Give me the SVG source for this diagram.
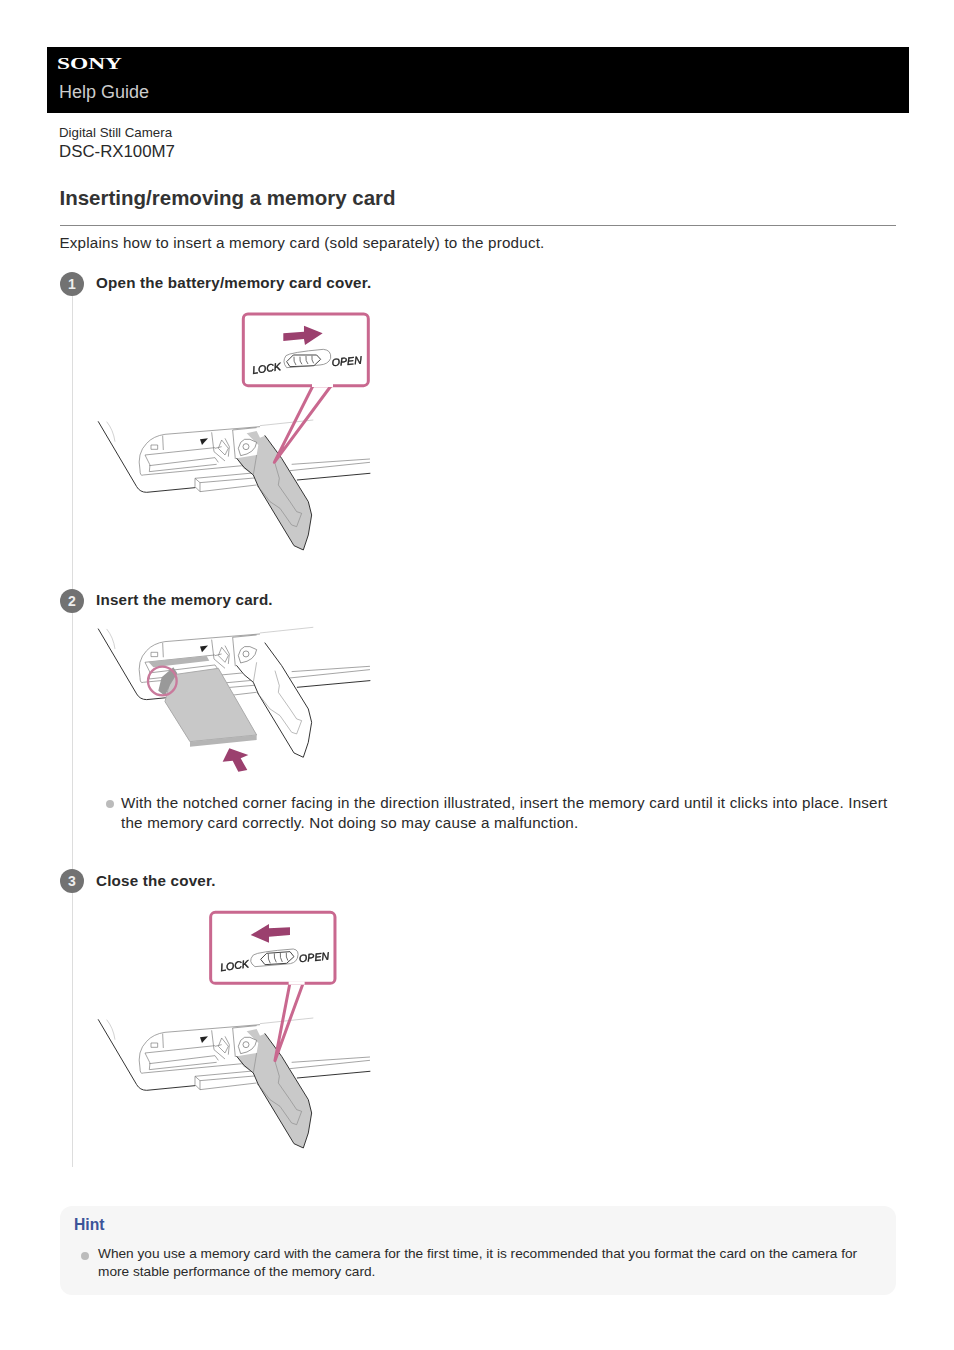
<svg xmlns="http://www.w3.org/2000/svg" width="954" height="1350" viewBox="0 0 954 1350">
<style>
text{font-family:"Liberation Sans",Arial,sans-serif;fill:#2a2a2a}
.b{font-weight:700}
.body{font-size:15.2px;letter-spacing:.2px}
.num{font-size:14px;font-weight:700;fill:#eee;text-anchor:middle}
.dark{fill:none;stroke:#333;stroke-width:3;stroke-linecap:round;stroke-linejoin:round}
.thin{fill:none;stroke:#777;stroke-width:2;stroke-linejoin:round}
.light{fill:none;stroke:#bbb;stroke-width:2}
.pink{stroke:#c9688f;stroke-width:9;stroke-linejoin:round}
.mag{fill:#9b3f6e}
.lbl{font-size:32px;font-style:italic;fill:#222;stroke:#222;stroke-width:1.2px}
.pill{fill:#fff;stroke:#888;stroke-width:2.5}
.grip{fill:#fff;stroke:#444;stroke-width:3}
.rib{fill:none;stroke:#555;stroke-width:2.5}
.step{fill:#727272}
</style>
<defs>
<filter id="soft" x="-5%" y="-5%" width="110%" height="110%"><feGaussianBlur stdDeviation="0.6"/></filter>
<g id="camera">
<path class="dark" d="M25 350L140 545Q150 562 170 562L315 548"/>
<path class="light" d="M50 350Q70 375 75 410"/>
<path class="thin" d="M150 495Q140 445 170 415Q190 393 225 388L510 365"/>
<path class="light" d="M510 362L670 345"/>
<path class="thin" d="M150 495Q150 515 160 510L500 478"/>
<path class="thin" d="M218 392L220 435M165 450L375 428M178 482L375 458L385 472M178 500L380 478M165 450L180 480L178 500"/>
<path class="thin" d="M183 420H203V433H183Z"/>
<path d="M330 403L354 400L336 420Z" fill="#222"/>
<path class="thin" d="M365 382L372 440L405 468M395 405L415 430L405 450L385 430ZM375 430L395 425M405 400L418 425L415 455"/>
<path class="thin" d="M428 375L436 462M428 375L500 368"/>
<path class="thin" d="M605 478L840 462M600 497L840 472"/>
<path class="dark" d="M622 525L840 505"/>
<path class="thin" d="M315 520L500 503M315 520V545L330 560L500 540M330 533V560M315 520L330 533L505 518"/>
</g>
<g id="door">
<path d="M470 385L500 378L510 398L525 392L575 460L655 590L665 630L655 690L640 735L612 722L505 545L490 510L460 490L440 460L500 450L505 420Z"/>
<path class="dark" d="M525 392L575 460L655 590L665 630L655 690L640 735L612 722L505 545"/>
<path class="dark" d="M440 460Q460 490 490 510L505 545"/>
<path class="thin" style="stroke-width:1.5" d="M555 475L568 520L565 540L600 590L620 620L635 625L620 665L605 660L570 610L540 590L505 545M490 510L500 450"/>
<path d="M445 430Q455 385 500 412Q495 445 452 452Z" fill="#fff" stroke="#666" stroke-width="2"/>
<circle cx="468" cy="425" r="9" fill="none" stroke="#666" stroke-width="2"/>
</g>
</defs>
<rect width="954" height="1350" fill="#fff"/>
<g id="header">
<rect x="47" y="47" width="862" height="66" fill="#000"/>
<text x="57" y="69" class="b" textLength="65" lengthAdjust="spacingAndGlyphs" style="font-family:'Liberation Serif',serif;font-size:16px;fill:#fff">SONY</text>
<text x="59" y="98" style="font-size:18px;fill:#ccc">Help Guide</text>
</g>
<g id="intro">
<text x="59" y="137" style="font-size:13.3px">Digital Still Camera</text>
<text x="59" y="157" style="font-size:16.84px">DSC-RX100M7</text>
<text x="59.500" y="205" class="b" style="font-size:20.5px;fill:#333">Inserting/removing a memory card</text>
<line x1="60" y1="225.500" x2="896" y2="225.500" stroke="#888"/>
<text x="59.500" y="248" class="body">Explains how to insert a memory card (sold separately) to the product.</text>
</g>
<line x1="72.500" y1="295" x2="72.500" y2="1167" stroke="#ddd"/>
<g id="step1">
<circle cx="72" cy="284" r="12" class="step"/><text x="72" y="289" class="num">1</text>
<text x="96" y="288" class="body b">Open the battery/memory card cover.</text>
<g id="fig1" transform="translate(90 305) scale(.3333)" filter="url(#soft)">
<use href="#camera"/>
<use href="#door" fill="#c9c9c9"/>
<rect x="460" y="27" width="375" height="215" rx="14" fill="#fff" class="pink"/>
<path d="M670 240L553 472L725 240" fill="none" class="pink"/>
<path d="M666 236H729L729 246H666Z" fill="#fff"/>
<path class="mag" d="M580 85L642 80V62L698 85L645 120L642 102L580 108Z"/>
<path class="pill" d="M588 152Q600 142 700 133Q725 135 722 160Q715 178 690 180L590 188Q575 170 588 152Z"/>
<path class="grip" d="M590 170L610 150L680 150L692 163L672 182L600 185Z"/>
<path class="rib" d="M612 155Q610 170 618 180M630 155Q628 170 636 178M648 153Q646 168 654 177M666 152Q664 166 671 175"/>
<text class="lbl" transform="translate(488 207) rotate(-8)">LOCK</text>
<text class="lbl" transform="translate(726 184) rotate(-5)">OPEN</text>
</g>
</g>
<g id="step2">
<circle cx="72" cy="601" r="12" class="step"/><text x="72" y="606" class="num">2</text>
<text x="96" y="605" class="body b">Insert the memory card.</text>
<g id="fig2" filter="url(#soft)">
<use href="#camera" transform="translate(90 512.300) scale(.3333)"/>
<use href="#door" fill="#fff" transform="translate(90 512.300) scale(.3333)"/>
<g transform="translate(90 620) scale(.3333)">
<path d="M175 125L350 108L358 122L190 142Z" fill="#b5b5b5"/>
<path d="M245 165L385 145L500 345L300 365L225 245Z" fill="#c8c8c8" stroke="#aaa" stroke-width="3"/>
<path d="M300 365V380L500 360V345Z" fill="#b5b5b5"/>
<path d="M205 212L215 172L250 142L262 160L240 195L225 228Z" fill="#999"/>
<circle cx="217" cy="183" r="43" fill="none" stroke="#c97a9c" stroke-width="7"/>
<path class="mag" d="M418 385L475 405L452 415L472 450L445 455L428 422L398 425Z"/>
</g>
</g>
<circle cx="110" cy="804" r="4" fill="#bbb"/>
<text x="121" y="808" class="body">With the notched corner facing in the direction illustrated, insert the memory card until it clicks into place. Insert</text>
<text x="121" y="828" class="body">the memory card correctly. Not doing so may cause a malfunction.</text>
</g>
<g id="step3">
<circle cx="72" cy="881" r="12" class="step"/><text x="72" y="886" class="num">3</text>
<text x="96" y="886" class="body b">Close the cover.</text>
<g id="fig3" filter="url(#soft)">
<use href="#camera" transform="translate(90 903) scale(.3333)"/>
<use href="#door" fill="#c9c9c9" transform="translate(90 903) scale(.3333)"/>
<g transform="translate(90 900) scale(.3333)">
<rect x="362" y="37" width="373" height="213" rx="14" fill="#fff" class="pink"/>
<path d="M600 248L555 482L640 248" fill="none" class="pink"/>
<path d="M596 244H644V254H596Z" fill="#fff"/>
<path class="mag" d="M600 82V105L537 110V128L482 105L537 72V85Z"/>
<path class="pill" d="M490 165Q505 155 610 147Q630 150 622 175Q615 192 590 192L495 200Q472 185 490 165Z"/>
<path class="grip" d="M512 178L530 160L600 155L612 170L590 190L525 194Z"/>
<path class="rib" d="M535 162Q533 178 541 190M553 160Q551 175 559 187M571 158Q569 173 577 186M589 158Q587 172 594 182"/>
<text class="lbl" transform="translate(392 214) rotate(-8)">LOCK</text>
<text class="lbl" transform="translate(628 187) rotate(-5)">OPEN</text>
</g>
</g>
</g>
<g id="hint">
<rect x="60" y="1206" width="836" height="89" rx="12" fill="#f6f6f6"/>
<text x="74" y="1230" class="b" style="font-size:15.7px;fill:#3b5499">Hint</text>
<circle cx="85" cy="1256" r="4" fill="#bbb"/>
<text x="98" y="1258" style="font-size:13.68px">When you use a memory card with the camera for the first time, it is recommended that you format the card on the camera for</text>
<text x="98" y="1276" style="font-size:13.68px">more stable performance of the memory card.</text>
</g>
</svg>
